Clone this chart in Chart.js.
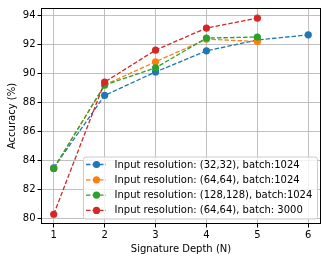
<!DOCTYPE html>
<html>
<head>
<meta charset="utf-8">
<script src="https://cdn.jsdelivr.net/npm/chart.js@4"></script>
<style>
  html, body { margin: 0; padding: 0; background: #fff; }
  #wrap { width: 327px; height: 262px; }
</style>
</head>
<body>
<div id="wrap"><canvas id="c"></canvas></div>
<script>
const depths = [1, 2, 3, 4, 5, 6]
const xTicks = [1, 2, 3, 4, 5, 6]
const yTicks = [80, 82, 84, 86, 88, 90, 92, 94]

const labels = [
  "Input resolution: (32,32), batch:1024",
  "Input resolution: (64,64), batch:1024",
  "Input resolution: (128,128), batch:1024",
  "Input resolution: (64,64), batch: 3000"
]
const res32 = [83.5, 88.48, 90.1, 91.55, 92.3, 92.65]
const res64 = [83.45, 89.2, 90.8, 92.35, 92.2]
const res128 = [83.45, 89.2, 90.38, 92.43, 92.5]
const res64b3000 = [80.3, 89.4, 91.6, 93.12, 93.8]
const colors = ["#1f77b4", "#ff7f0e", "#2ca02c", "#d62728"]

const font = { family: "DejaVu Sans", size: 10 }

const series = [res32, res64, res128, res64b3000]
const datasets = series.map((vals, i) => ({
  label: labels[i],
  data: vals.map((v, j) => ({ x: depths[j], y: v })),
  borderColor: colors[i],
  backgroundColor: colors[i],
  borderWidth: 1.3,
  borderDash: [4.5, 2],
  pointRadius: 3.6,
  pointBorderWidth: 0,
  pointHoverRadius: 3.6,
  tension: 0,
  order: 3 - i
}))

// matplotlib-style frame and legend inside the plot
const framePlugin = {
  id: "frame",
  afterDatasetsDraw(chart) {
    const { ctx, chartArea: a } = chart
    ctx.save()
    ctx.strokeStyle = "#000"
    ctx.lineWidth = 1
    ctx.setLineDash([])
    ctx.strokeRect(a.left + 0.5, a.top + 0.5, a.right - a.left - 1, a.bottom - a.top - 1)

    const bx = 83, by = 156.5, bw = 234, bh = 62
    ctx.beginPath()
    ctx.roundRect(bx + 0.5, by + 0.5, bw, bh, 2.5)
    ctx.fillStyle = "rgba(255,255,255,0.8)"
    ctx.fill()
    ctx.strokeStyle = "#cccccc"
    ctx.stroke()

    ctx.font = font.size + "px " + font.family
    ctx.textBaseline = "middle"
    chart.data.datasets.forEach((ds, i) => {
      const y = 164.5 + i * 15.3
      ctx.strokeStyle = ds.borderColor
      ctx.lineWidth = 1.3
      ctx.setLineDash([4.5, 2])
      ctx.beginPath()
      ctx.moveTo(86, y)
      ctx.lineTo(106, y)
      ctx.stroke()
      ctx.setLineDash([])
      ctx.fillStyle = ds.borderColor
      ctx.beginPath()
      ctx.arc(96.5, y, 3.6, 0, Math.PI * 2)
      ctx.fill()
      ctx.fillStyle = "#000"
      ctx.fillText(ds.label, 114.5, y + 0.5)
    })
    ctx.restore()
  }
}

new Chart(document.getElementById("c"), {
  type: "line",
  data: { datasets },
  options: {
    responsive: true,
    maintainAspectRatio: false,
    animation: false,
    layout: { padding: { top: 5, right: 6, left: 0, bottom: 0 } },
    plugins: {
      legend: { display: false },
      tooltip: { enabled: false }
    },
    scales: {
      x: {
        type: "linear",
        min: 0.75,
        max: 6.25,
        afterBuildTicks: (s) => { s.ticks = xTicks.map(v => ({ value: v })) },
        afterFit: (s) => { s.height = 38 },
        grid: { color: "#b0b0b0", lineWidth: 0.8, tickColor: "#000", tickLength: 3.5, tickWidth: 1 },
        border: { display: false },
        ticks: { color: "#000", font, padding: 2, maxRotation: 0 },
        title: { display: true, text: "Signature Depth (N)", color: "#000", font, padding: { top: 0, bottom: 7 } }
      },
      y: {
        min: 79.63,
        max: 94.5,
        afterBuildTicks: (s) => { s.ticks = yTicks.map(v => ({ value: v })) },
        afterFit: (s) => { s.width = 41 },
        grid: { color: "#b0b0b0", lineWidth: 0.8, tickColor: "#000", tickLength: 3.5, tickWidth: 1 },
        border: { display: false },
        ticks: { color: "#000", font, padding: 2 },
        title: { display: true, text: "Accuracy (%)", color: "#000", font, padding: { top: 6, bottom: 0 } }
      }
    }
  },
  plugins: [framePlugin]
})
</script>
</body>
</html>
